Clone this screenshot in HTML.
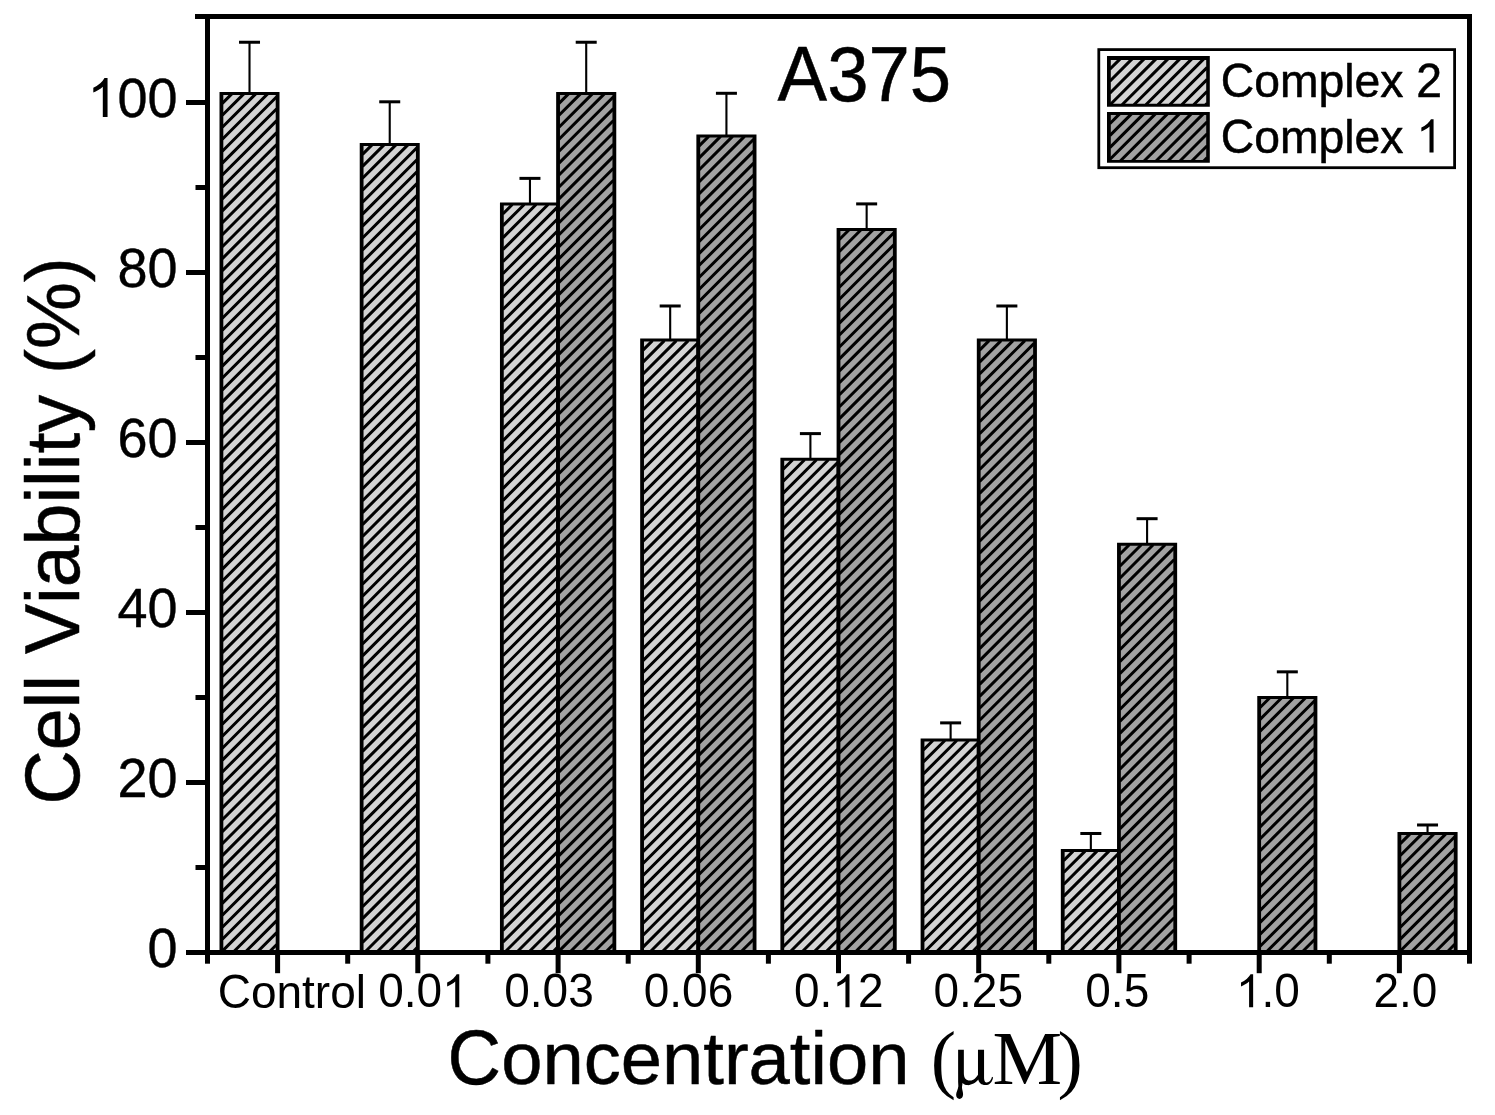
<!DOCTYPE html>
<html><head><meta charset="utf-8"><title>A375</title>
<style>html,body{margin:0;padding:0;background:#fff}body{width:1495px;height:1115px;position:relative;overflow:hidden;font-family:"Liberation Sans",sans-serif}</style>
</head><body>
<svg width="1495" height="1115" viewBox="0 0 1495 1115" style="position:absolute;left:0;top:0;filter:grayscale(1)">
<rect x="248.46" y="42.24" width="2.1" height="50.65" fill="#000"/>
<rect x="239.01" y="40.74" width="21" height="3" fill="#000"/>
<rect x="388.68" y="101.80" width="2.1" height="42.14" fill="#000"/>
<rect x="379.23" y="100.30" width="21" height="3" fill="#000"/>
<rect x="528.91" y="178.37" width="2.1" height="25.12" fill="#000"/>
<rect x="519.46" y="176.87" width="21" height="3" fill="#000"/>
<rect x="585.16" y="42.24" width="2.1" height="50.65" fill="#000"/>
<rect x="575.71" y="40.74" width="21" height="3" fill="#000"/>
<rect x="669.13" y="305.99" width="2.1" height="33.63" fill="#000"/>
<rect x="659.68" y="304.49" width="21" height="3" fill="#000"/>
<rect x="725.38" y="93.29" width="2.1" height="42.14" fill="#000"/>
<rect x="715.93" y="91.79" width="21" height="3" fill="#000"/>
<rect x="809.35" y="433.61" width="2.1" height="25.12" fill="#000"/>
<rect x="799.90" y="432.11" width="21" height="3" fill="#000"/>
<rect x="865.60" y="203.90" width="2.1" height="25.12" fill="#000"/>
<rect x="856.15" y="202.40" width="21" height="3" fill="#000"/>
<rect x="949.57" y="722.88" width="2.1" height="16.62" fill="#000"/>
<rect x="940.12" y="721.38" width="21" height="3" fill="#000"/>
<rect x="1005.82" y="305.99" width="2.1" height="33.63" fill="#000"/>
<rect x="996.37" y="304.49" width="21" height="3" fill="#000"/>
<rect x="1089.79" y="833.49" width="2.1" height="16.62" fill="#000"/>
<rect x="1080.34" y="831.99" width="21" height="3" fill="#000"/>
<rect x="1146.04" y="518.69" width="2.1" height="25.12" fill="#000"/>
<rect x="1136.59" y="517.19" width="21" height="3" fill="#000"/>
<rect x="1286.27" y="671.84" width="2.1" height="25.12" fill="#000"/>
<rect x="1276.82" y="670.34" width="21" height="3" fill="#000"/>
<rect x="1426.49" y="824.98" width="2.1" height="8.11" fill="#000"/>
<rect x="1417.04" y="823.48" width="21" height="3" fill="#000"/>
<rect x="220.51" y="92.89" width="58.00" height="859.61" fill="#d3d3d3"/>
<path d="M222.3 103.4L231.8 93.9M222.3 115.3L243.8 93.9M222.3 127.3L255.7 93.9M222.3 139.2L267.6 93.9M222.3 151.2L276.7 96.8M222.3 163.1L276.7 108.7M222.3 175.0L276.7 120.6M222.3 187.0L276.7 132.6M222.3 198.9L276.7 144.5M222.3 210.9L276.7 156.5M222.3 222.8L276.7 168.4M222.3 234.7L276.7 180.3M222.3 246.7L276.7 192.3M222.3 258.6L276.7 204.2M222.3 270.6L276.7 216.2M222.3 282.5L276.7 228.1M222.3 294.4L276.7 240.0M222.3 306.4L276.7 252.0M222.3 318.3L276.7 263.9M222.3 330.3L276.7 275.9M222.3 342.2L276.7 287.8M222.3 354.1L276.7 299.7M222.3 366.1L276.7 311.7M222.3 378.0L276.7 323.6M222.3 390.0L276.7 335.6M222.3 401.9L276.7 347.5M222.3 413.8L276.7 359.4M222.3 425.8L276.7 371.4M222.3 437.7L276.7 383.3M222.3 449.7L276.7 395.3M222.3 461.6L276.7 407.2M222.3 473.5L276.7 419.1M222.3 485.5L276.7 431.1M222.3 497.4L276.7 443.0M222.3 509.4L276.7 455.0M222.3 521.3L276.7 466.9M222.3 533.2L276.7 478.8M222.3 545.2L276.7 490.8M222.3 557.1L276.7 502.7M222.3 569.1L276.7 514.7M222.3 581.0L276.7 526.6M222.3 592.9L276.7 538.5M222.3 604.9L276.7 550.5M222.3 616.8L276.7 562.4M222.3 628.8L276.7 574.4M222.3 640.7L276.7 586.3M222.3 652.6L276.7 598.2M222.3 664.6L276.7 610.2M222.3 676.5L276.7 622.1M222.3 688.5L276.7 634.1M222.3 700.4L276.7 646.0M222.3 712.3L276.7 657.9M222.3 724.3L276.7 669.9M222.3 736.2L276.7 681.8M222.3 748.2L276.7 693.8M222.3 760.1L276.7 705.7M222.3 772.0L276.7 717.6M222.3 784.0L276.7 729.6M222.3 795.9L276.7 741.5M222.3 807.9L276.7 753.5M222.3 819.8L276.7 765.4M222.3 831.7L276.7 777.3M222.3 843.7L276.7 789.3M222.3 855.6L276.7 801.2M222.3 867.6L276.7 813.2M222.3 879.5L276.7 825.1M222.3 891.4L276.7 837.0M222.3 903.4L276.7 849.0M222.3 915.3L276.7 860.9M222.3 927.3L276.7 872.9M222.3 939.2L276.7 884.8M222.3 951.1L276.7 896.7M233.9 951.5L276.7 908.7M245.8 951.5L276.7 920.6M257.8 951.5L276.7 932.6M269.7 951.5L276.7 944.5" stroke="#000" stroke-width="3.00" fill="none"/>
<path fill-rule="evenodd" fill="#000" d="M219.51 91.89H279.51V953.50H219.51ZM223.31 94.89H275.71V950.50H223.31Z"/>
<rect x="360.73" y="143.94" width="58.00" height="808.56" fill="#d3d3d3"/>
<path d="M362.5 154.4L372.0 144.9M362.5 166.4L384.0 144.9M362.5 178.3L395.9 144.9M362.5 190.3L407.9 144.9M362.5 202.2L416.9 147.8M362.5 214.1L416.9 159.7M362.5 226.1L416.9 171.7M362.5 238.0L416.9 183.6M362.5 250.0L416.9 195.6M362.5 261.9L416.9 207.5M362.5 273.8L416.9 219.4M362.5 285.8L416.9 231.4M362.5 297.7L416.9 243.3M362.5 309.7L416.9 255.3M362.5 321.6L416.9 267.2M362.5 333.5L416.9 279.1M362.5 345.5L416.9 291.1M362.5 357.4L416.9 303.0M362.5 369.4L416.9 315.0M362.5 381.3L416.9 326.9M362.5 393.2L416.9 338.8M362.5 405.2L416.9 350.8M362.5 417.1L416.9 362.7M362.5 429.1L416.9 374.7M362.5 441.0L416.9 386.6M362.5 452.9L416.9 398.5M362.5 464.9L416.9 410.5M362.5 476.8L416.9 422.4M362.5 488.8L416.9 434.4M362.5 500.7L416.9 446.3M362.5 512.6L416.9 458.2M362.5 524.6L416.9 470.2M362.5 536.5L416.9 482.1M362.5 548.5L416.9 494.1M362.5 560.4L416.9 506.0M362.5 572.3L416.9 517.9M362.5 584.3L416.9 529.9M362.5 596.2L416.9 541.8M362.5 608.2L416.9 553.8M362.5 620.1L416.9 565.7M362.5 632.0L416.9 577.6M362.5 644.0L416.9 589.6M362.5 655.9L416.9 601.5M362.5 667.9L416.9 613.5M362.5 679.8L416.9 625.4M362.5 691.7L416.9 637.3M362.5 703.7L416.9 649.3M362.5 715.6L416.9 661.2M362.5 727.6L416.9 673.2M362.5 739.5L416.9 685.1M362.5 751.4L416.9 697.0M362.5 763.4L416.9 709.0M362.5 775.3L416.9 720.9M362.5 787.3L416.9 732.9M362.5 799.2L416.9 744.8M362.5 811.1L416.9 756.7M362.5 823.1L416.9 768.7M362.5 835.0L416.9 780.6M362.5 847.0L416.9 792.6M362.5 858.9L416.9 804.5M362.5 870.8L416.9 816.4M362.5 882.8L416.9 828.4M362.5 894.7L416.9 840.3M362.5 906.7L416.9 852.3M362.5 918.6L416.9 864.2M362.5 930.5L416.9 876.1M362.5 942.5L416.9 888.1M365.5 951.5L416.9 900.0M377.4 951.5L416.9 912.0M389.3 951.5L416.9 923.9M401.3 951.5L416.9 935.8M413.2 951.5L416.9 947.8" stroke="#000" stroke-width="3.00" fill="none"/>
<path fill-rule="evenodd" fill="#000" d="M359.73 142.94H419.73V953.50H359.73ZM363.53 145.94H415.93V950.50H363.53Z"/>
<rect x="500.96" y="203.50" width="58.00" height="749.00" fill="#d3d3d3"/>
<path d="M502.8 214.0L512.3 204.5M502.8 225.9L524.2 204.5M502.8 237.9L536.1 204.5M502.8 249.8L548.1 204.5M502.8 261.8L557.2 207.4M502.8 273.7L557.2 219.3M502.8 285.6L557.2 231.2M502.8 297.6L557.2 243.2M502.8 309.5L557.2 255.1M502.8 321.5L557.2 267.1M502.8 333.4L557.2 279.0M502.8 345.3L557.2 290.9M502.8 357.3L557.2 302.9M502.8 369.2L557.2 314.8M502.8 381.2L557.2 326.8M502.8 393.1L557.2 338.7M502.8 405.0L557.2 350.6M502.8 417.0L557.2 362.6M502.8 428.9L557.2 374.5M502.8 440.9L557.2 386.5M502.8 452.8L557.2 398.4M502.8 464.7L557.2 410.3M502.8 476.7L557.2 422.3M502.8 488.6L557.2 434.2M502.8 500.6L557.2 446.2M502.8 512.5L557.2 458.1M502.8 524.4L557.2 470.0M502.8 536.4L557.2 482.0M502.8 548.3L557.2 493.9M502.8 560.3L557.2 505.9M502.8 572.2L557.2 517.8M502.8 584.1L557.2 529.7M502.8 596.1L557.2 541.7M502.8 608.0L557.2 553.6M502.8 620.0L557.2 565.6M502.8 631.9L557.2 577.5M502.8 643.8L557.2 589.4M502.8 655.8L557.2 601.4M502.8 667.7L557.2 613.3M502.8 679.7L557.2 625.3M502.8 691.6L557.2 637.2M502.8 703.5L557.2 649.1M502.8 715.5L557.2 661.1M502.8 727.4L557.2 673.0M502.8 739.4L557.2 685.0M502.8 751.3L557.2 696.9M502.8 763.2L557.2 708.8M502.8 775.2L557.2 720.8M502.8 787.1L557.2 732.7M502.8 799.1L557.2 744.7M502.8 811.0L557.2 756.6M502.8 822.9L557.2 768.5M502.8 834.9L557.2 780.5M502.8 846.8L557.2 792.4M502.8 858.8L557.2 804.4M502.8 870.7L557.2 816.3M502.8 882.6L557.2 828.2M502.8 894.6L557.2 840.2M502.8 906.5L557.2 852.1M502.8 918.5L557.2 864.1M502.8 930.4L557.2 876.0M502.8 942.3L557.2 887.9M505.5 951.5L557.2 899.9M517.5 951.5L557.2 911.8M529.4 951.5L557.2 923.8M541.4 951.5L557.2 935.7M553.3 951.5L557.2 947.6" stroke="#000" stroke-width="3.00" fill="none"/>
<path fill-rule="evenodd" fill="#000" d="M499.96 202.50H559.96V953.50H499.96ZM503.76 205.50H556.16V950.50H503.76Z"/>
<rect x="557.16" y="92.89" width="58.10" height="859.61" fill="#a2a2a2"/>
<path d="M559.0 103.4L568.5 93.9M559.0 115.3L580.4 93.9M559.0 127.3L592.3 93.9M559.0 139.2L604.3 93.9M559.0 151.2L613.5 96.7M559.0 163.1L613.5 108.6M559.0 175.0L613.5 120.5M559.0 187.0L613.5 132.5M559.0 198.9L613.5 144.4M559.0 210.9L613.5 156.4M559.0 222.8L613.5 168.3M559.0 234.7L613.5 180.2M559.0 246.7L613.5 192.2M559.0 258.6L613.5 204.1M559.0 270.6L613.5 216.1M559.0 282.5L613.5 228.0M559.0 294.4L613.5 239.9M559.0 306.4L613.5 251.9M559.0 318.3L613.5 263.8M559.0 330.3L613.5 275.8M559.0 342.2L613.5 287.7M559.0 354.1L613.5 299.6M559.0 366.1L613.5 311.6M559.0 378.0L613.5 323.5M559.0 390.0L613.5 335.5M559.0 401.9L613.5 347.4M559.0 413.8L613.5 359.3M559.0 425.8L613.5 371.3M559.0 437.7L613.5 383.2M559.0 449.7L613.5 395.2M559.0 461.6L613.5 407.1M559.0 473.5L613.5 419.0M559.0 485.5L613.5 431.0M559.0 497.4L613.5 442.9M559.0 509.4L613.5 454.9M559.0 521.3L613.5 466.8M559.0 533.2L613.5 478.7M559.0 545.2L613.5 490.7M559.0 557.1L613.5 502.6M559.0 569.1L613.5 514.6M559.0 581.0L613.5 526.5M559.0 592.9L613.5 538.4M559.0 604.9L613.5 550.4M559.0 616.8L613.5 562.3M559.0 628.8L613.5 574.3M559.0 640.7L613.5 586.2M559.0 652.6L613.5 598.1M559.0 664.6L613.5 610.1M559.0 676.5L613.5 622.0M559.0 688.5L613.5 634.0M559.0 700.4L613.5 645.9M559.0 712.3L613.5 657.8M559.0 724.3L613.5 669.8M559.0 736.2L613.5 681.7M559.0 748.2L613.5 693.7M559.0 760.1L613.5 705.6M559.0 772.0L613.5 717.5M559.0 784.0L613.5 729.5M559.0 795.9L613.5 741.4M559.0 807.9L613.5 753.4M559.0 819.8L613.5 765.3M559.0 831.7L613.5 777.2M559.0 843.7L613.5 789.2M559.0 855.6L613.5 801.1M559.0 867.6L613.5 813.1M559.0 879.5L613.5 825.0M559.0 891.4L613.5 836.9M559.0 903.4L613.5 848.9M559.0 915.3L613.5 860.8M559.0 927.3L613.5 872.8M559.0 939.2L613.5 884.7M559.0 951.1L613.5 896.6M570.5 951.5L613.5 908.6M582.5 951.5L613.5 920.5M594.4 951.5L613.5 932.5M606.3 951.5L613.5 944.4" stroke="#000" stroke-width="3.00" fill="none"/>
<path fill-rule="evenodd" fill="#000" d="M556.16 91.89H616.26V953.50H556.16ZM559.96 94.89H612.46V950.50H559.96Z"/>
<rect x="641.18" y="339.62" width="58.00" height="612.88" fill="#d3d3d3"/>
<path d="M643.0 350.1L652.5 340.6M643.0 362.1L664.4 340.6M643.0 374.0L676.4 340.6M643.0 385.9L688.3 340.6M643.0 397.9L697.4 343.5M643.0 409.8L697.4 355.4M643.0 421.8L697.4 367.4M643.0 433.7L697.4 379.3M643.0 445.6L697.4 391.2M643.0 457.6L697.4 403.2M643.0 469.5L697.4 415.1M643.0 481.5L697.4 427.1M643.0 493.4L697.4 439.0M643.0 505.3L697.4 450.9M643.0 517.3L697.4 462.9M643.0 529.2L697.4 474.8M643.0 541.2L697.4 486.8M643.0 553.1L697.4 498.7M643.0 565.0L697.4 510.6M643.0 577.0L697.4 522.6M643.0 588.9L697.4 534.5M643.0 600.9L697.4 546.5M643.0 612.8L697.4 558.4M643.0 624.7L697.4 570.3M643.0 636.7L697.4 582.3M643.0 648.6L697.4 594.2M643.0 660.6L697.4 606.2M643.0 672.5L697.4 618.1M643.0 684.4L697.4 630.0M643.0 696.4L697.4 642.0M643.0 708.3L697.4 653.9M643.0 720.3L697.4 665.9M643.0 732.2L697.4 677.8M643.0 744.1L697.4 689.7M643.0 756.1L697.4 701.7M643.0 768.0L697.4 713.6M643.0 780.0L697.4 725.6M643.0 791.9L697.4 737.5M643.0 803.8L697.4 749.4M643.0 815.8L697.4 761.4M643.0 827.7L697.4 773.3M643.0 839.7L697.4 785.3M643.0 851.6L697.4 797.2M643.0 863.5L697.4 809.1M643.0 875.5L697.4 821.1M643.0 887.4L697.4 833.0M643.0 899.4L697.4 845.0M643.0 911.3L697.4 856.9M643.0 923.2L697.4 868.8M643.0 935.2L697.4 880.8M643.0 947.1L697.4 892.7M650.5 951.5L697.4 904.7M662.5 951.5L697.4 916.6M674.4 951.5L697.4 928.5M686.4 951.5L697.4 940.5" stroke="#000" stroke-width="3.00" fill="none"/>
<path fill-rule="evenodd" fill="#000" d="M640.18 338.62H700.18V953.50H640.18ZM643.98 341.62H696.38V950.50H643.98Z"/>
<rect x="697.38" y="135.43" width="58.10" height="817.07" fill="#a2a2a2"/>
<path d="M699.2 145.9L708.7 136.4M699.2 157.9L720.6 136.4M699.2 169.8L732.6 136.4M699.2 181.8L744.5 136.4M699.2 193.7L753.7 139.2M699.2 205.6L753.7 151.1M699.2 217.6L753.7 163.1M699.2 229.5L753.7 175.0M699.2 241.5L753.7 187.0M699.2 253.4L753.7 198.9M699.2 265.3L753.7 210.8M699.2 277.3L753.7 222.8M699.2 289.2L753.7 234.7M699.2 301.2L753.7 246.7M699.2 313.1L753.7 258.6M699.2 325.0L753.7 270.5M699.2 337.0L753.7 282.5M699.2 348.9L753.7 294.4M699.2 360.9L753.7 306.4M699.2 372.8L753.7 318.3M699.2 384.7L753.7 330.2M699.2 396.7L753.7 342.2M699.2 408.6L753.7 354.1M699.2 420.6L753.7 366.1M699.2 432.5L753.7 378.0M699.2 444.4L753.7 389.9M699.2 456.4L753.7 401.9M699.2 468.3L753.7 413.8M699.2 480.3L753.7 425.8M699.2 492.2L753.7 437.7M699.2 504.1L753.7 449.6M699.2 516.1L753.7 461.6M699.2 528.0L753.7 473.5M699.2 540.0L753.7 485.5M699.2 551.9L753.7 497.4M699.2 563.8L753.7 509.3M699.2 575.8L753.7 521.3M699.2 587.7L753.7 533.2M699.2 599.7L753.7 545.2M699.2 611.6L753.7 557.1M699.2 623.5L753.7 569.0M699.2 635.5L753.7 581.0M699.2 647.4L753.7 592.9M699.2 659.4L753.7 604.9M699.2 671.3L753.7 616.8M699.2 683.2L753.7 628.7M699.2 695.2L753.7 640.7M699.2 707.1L753.7 652.6M699.2 719.1L753.7 664.6M699.2 731.0L753.7 676.5M699.2 742.9L753.7 688.4M699.2 754.9L753.7 700.4M699.2 766.8L753.7 712.3M699.2 778.8L753.7 724.3M699.2 790.7L753.7 736.2M699.2 802.6L753.7 748.1M699.2 814.6L753.7 760.1M699.2 826.5L753.7 772.0M699.2 838.5L753.7 784.0M699.2 850.4L753.7 795.9M699.2 862.3L753.7 807.8M699.2 874.3L753.7 819.8M699.2 886.2L753.7 831.7M699.2 898.2L753.7 843.7M699.2 910.1L753.7 855.6M699.2 922.0L753.7 867.5M699.2 934.0L753.7 879.5M699.2 945.9L753.7 891.4M705.5 951.5L753.7 903.4M717.5 951.5L753.7 915.3M729.4 951.5L753.7 927.2M741.3 951.5L753.7 939.2M753.3 951.5L753.7 951.1" stroke="#000" stroke-width="3.00" fill="none"/>
<path fill-rule="evenodd" fill="#000" d="M696.38 134.43H756.48V953.50H696.38ZM700.18 137.43H752.68V950.50H700.18Z"/>
<rect x="781.40" y="458.74" width="58.00" height="493.76" fill="#d3d3d3"/>
<path d="M783.2 469.2L792.7 459.7M783.2 481.2L804.6 459.7M783.2 493.1L816.6 459.7M783.2 505.1L828.5 459.7M783.2 517.0L837.6 462.6M783.2 528.9L837.6 474.5M783.2 540.9L837.6 486.5M783.2 552.8L837.6 498.4M783.2 564.8L837.6 510.4M783.2 576.7L837.6 522.3M783.2 588.6L837.6 534.2M783.2 600.6L837.6 546.2M783.2 612.5L837.6 558.1M783.2 624.5L837.6 570.1M783.2 636.4L837.6 582.0M783.2 648.3L837.6 593.9M783.2 660.3L837.6 605.9M783.2 672.2L837.6 617.8M783.2 684.2L837.6 629.8M783.2 696.1L837.6 641.7M783.2 708.0L837.6 653.6M783.2 720.0L837.6 665.6M783.2 731.9L837.6 677.5M783.2 743.9L837.6 689.5M783.2 755.8L837.6 701.4M783.2 767.7L837.6 713.3M783.2 779.7L837.6 725.3M783.2 791.6L837.6 737.2M783.2 803.6L837.6 749.2M783.2 815.5L837.6 761.1M783.2 827.4L837.6 773.0M783.2 839.4L837.6 785.0M783.2 851.3L837.6 796.9M783.2 863.3L837.6 808.9M783.2 875.2L837.6 820.8M783.2 887.1L837.6 832.7M783.2 899.1L837.6 844.7M783.2 911.0L837.6 856.6M783.2 923.0L837.6 868.6M783.2 934.9L837.6 880.5M783.2 946.8L837.6 892.4M790.5 951.5L837.6 904.4M802.4 951.5L837.6 916.3M814.4 951.5L837.6 928.3M826.3 951.5L837.6 940.2" stroke="#000" stroke-width="3.00" fill="none"/>
<path fill-rule="evenodd" fill="#000" d="M780.40 457.74H840.40V953.50H780.40ZM784.20 460.74H836.60V950.50H784.20Z"/>
<rect x="837.60" y="229.02" width="58.10" height="723.48" fill="#a2a2a2"/>
<path d="M839.4 239.5L848.9 230.0M839.4 251.5L860.8 230.0M839.4 263.4L872.8 230.0M839.4 275.3L884.7 230.0M839.4 287.3L893.9 232.8M839.4 299.2L893.9 244.7M839.4 311.2L893.9 256.7M839.4 323.1L893.9 268.6M839.4 335.0L893.9 280.5M839.4 347.0L893.9 292.5M839.4 358.9L893.9 304.4M839.4 370.9L893.9 316.4M839.4 382.8L893.9 328.3M839.4 394.7L893.9 340.2M839.4 406.7L893.9 352.2M839.4 418.6L893.9 364.1M839.4 430.6L893.9 376.1M839.4 442.5L893.9 388.0M839.4 454.4L893.9 399.9M839.4 466.4L893.9 411.9M839.4 478.3L893.9 423.8M839.4 490.3L893.9 435.8M839.4 502.2L893.9 447.7M839.4 514.1L893.9 459.6M839.4 526.1L893.9 471.6M839.4 538.0L893.9 483.5M839.4 550.0L893.9 495.5M839.4 561.9L893.9 507.4M839.4 573.8L893.9 519.3M839.4 585.8L893.9 531.3M839.4 597.7L893.9 543.2M839.4 609.7L893.9 555.2M839.4 621.6L893.9 567.1M839.4 633.5L893.9 579.0M839.4 645.5L893.9 591.0M839.4 657.4L893.9 602.9M839.4 669.4L893.9 614.9M839.4 681.3L893.9 626.8M839.4 693.2L893.9 638.7M839.4 705.2L893.9 650.7M839.4 717.1L893.9 662.6M839.4 729.1L893.9 674.6M839.4 741.0L893.9 686.5M839.4 752.9L893.9 698.4M839.4 764.9L893.9 710.4M839.4 776.8L893.9 722.3M839.4 788.8L893.9 734.3M839.4 800.7L893.9 746.2M839.4 812.6L893.9 758.1M839.4 824.6L893.9 770.1M839.4 836.5L893.9 782.0M839.4 848.5L893.9 794.0M839.4 860.4L893.9 805.9M839.4 872.3L893.9 817.8M839.4 884.3L893.9 829.8M839.4 896.2L893.9 841.7M839.4 908.2L893.9 853.7M839.4 920.1L893.9 865.6M839.4 932.0L893.9 877.5M839.4 944.0L893.9 889.5M843.8 951.5L893.9 901.4M855.8 951.5L893.9 913.4M867.7 951.5L893.9 925.3M879.6 951.5L893.9 937.2M891.6 951.5L893.9 949.2" stroke="#000" stroke-width="3.00" fill="none"/>
<path fill-rule="evenodd" fill="#000" d="M836.60 228.02H896.70V953.50H836.60ZM840.40 231.02H892.90V950.50H840.40Z"/>
<rect x="921.62" y="739.50" width="58.00" height="213.00" fill="#d3d3d3"/>
<path d="M923.4 750.0L932.9 740.5M923.4 761.9L944.9 740.5M923.4 773.9L956.8 740.5M923.4 785.8L968.7 740.5M923.4 797.8L977.8 743.4M923.4 809.7L977.8 755.3M923.4 821.6L977.8 767.2M923.4 833.6L977.8 779.2M923.4 845.5L977.8 791.1M923.4 857.5L977.8 803.1M923.4 869.4L977.8 815.0M923.4 881.3L977.8 826.9M923.4 893.3L977.8 838.9M923.4 905.2L977.8 850.8M923.4 917.2L977.8 862.8M923.4 929.1L977.8 874.7M923.4 941.0L977.8 886.6M924.9 951.5L977.8 898.6M936.8 951.5L977.8 910.5M948.8 951.5L977.8 922.5M960.7 951.5L977.8 934.4M972.7 951.5L977.8 946.3" stroke="#000" stroke-width="3.00" fill="none"/>
<path fill-rule="evenodd" fill="#000" d="M920.62 738.50H980.62V953.50H920.62ZM924.42 741.50H976.82V950.50H924.42Z"/>
<rect x="977.82" y="339.62" width="58.10" height="612.88" fill="#a2a2a2"/>
<path d="M979.6 350.1L989.1 340.6M979.6 362.1L1001.1 340.6M979.6 374.0L1013.0 340.6M979.6 385.9L1024.9 340.6M979.6 397.9L1034.1 343.4M979.6 409.8L1034.1 355.3M979.6 421.8L1034.1 367.3M979.6 433.7L1034.1 379.2M979.6 445.6L1034.1 391.1M979.6 457.6L1034.1 403.1M979.6 469.5L1034.1 415.0M979.6 481.5L1034.1 427.0M979.6 493.4L1034.1 438.9M979.6 505.3L1034.1 450.8M979.6 517.3L1034.1 462.8M979.6 529.2L1034.1 474.7M979.6 541.2L1034.1 486.7M979.6 553.1L1034.1 498.6M979.6 565.0L1034.1 510.5M979.6 577.0L1034.1 522.5M979.6 588.9L1034.1 534.4M979.6 600.9L1034.1 546.4M979.6 612.8L1034.1 558.3M979.6 624.7L1034.1 570.2M979.6 636.7L1034.1 582.2M979.6 648.6L1034.1 594.1M979.6 660.6L1034.1 606.1M979.6 672.5L1034.1 618.0M979.6 684.4L1034.1 629.9M979.6 696.4L1034.1 641.9M979.6 708.3L1034.1 653.8M979.6 720.3L1034.1 665.8M979.6 732.2L1034.1 677.7M979.6 744.1L1034.1 689.6M979.6 756.1L1034.1 701.6M979.6 768.0L1034.1 713.5M979.6 780.0L1034.1 725.5M979.6 791.9L1034.1 737.4M979.6 803.8L1034.1 749.3M979.6 815.8L1034.1 761.3M979.6 827.7L1034.1 773.2M979.6 839.7L1034.1 785.2M979.6 851.6L1034.1 797.1M979.6 863.5L1034.1 809.0M979.6 875.5L1034.1 821.0M979.6 887.4L1034.1 832.9M979.6 899.4L1034.1 844.9M979.6 911.3L1034.1 856.8M979.6 923.2L1034.1 868.7M979.6 935.2L1034.1 880.7M979.6 947.1L1034.1 892.6M987.2 951.5L1034.1 904.6M999.1 951.5L1034.1 916.5M1011.1 951.5L1034.1 928.4M1023.0 951.5L1034.1 940.4" stroke="#000" stroke-width="3.00" fill="none"/>
<path fill-rule="evenodd" fill="#000" d="M976.82 338.62H1036.92V953.50H976.82ZM980.62 341.62H1033.12V950.50H980.62Z"/>
<rect x="1061.84" y="850.10" width="58.00" height="102.40" fill="#d3d3d3"/>
<path d="M1063.6 860.6L1073.1 851.1M1063.6 872.5L1085.1 851.1M1063.6 884.5L1097.0 851.1M1063.6 896.4L1109.0 851.1M1063.6 908.4L1118.0 854.0M1063.6 920.3L1118.0 865.9M1063.6 932.2L1118.0 877.8M1063.6 944.2L1118.0 889.8M1068.3 951.5L1118.0 901.7M1080.2 951.5L1118.0 913.7M1092.1 951.5L1118.0 925.6M1104.1 951.5L1118.0 937.5M1116.0 951.5L1118.0 949.5" stroke="#000" stroke-width="3.00" fill="none"/>
<path fill-rule="evenodd" fill="#000" d="M1060.84 849.10H1120.84V953.50H1060.84ZM1064.64 852.10H1117.04V950.50H1064.64Z"/>
<rect x="1118.04" y="543.82" width="58.10" height="408.68" fill="#a2a2a2"/>
<path d="M1119.8 554.3L1129.3 544.8M1119.8 566.3L1141.3 544.8M1119.8 578.2L1153.2 544.8M1119.8 590.1L1165.2 544.8M1119.8 602.1L1174.3 547.6M1119.8 614.0L1174.3 559.5M1119.8 626.0L1174.3 571.5M1119.8 637.9L1174.3 583.4M1119.8 649.8L1174.3 595.3M1119.8 661.8L1174.3 607.3M1119.8 673.7L1174.3 619.2M1119.8 685.7L1174.3 631.2M1119.8 697.6L1174.3 643.1M1119.8 709.5L1174.3 655.0M1119.8 721.5L1174.3 667.0M1119.8 733.4L1174.3 678.9M1119.8 745.4L1174.3 690.9M1119.8 757.3L1174.3 702.8M1119.8 769.2L1174.3 714.7M1119.8 781.2L1174.3 726.7M1119.8 793.1L1174.3 738.6M1119.8 805.1L1174.3 750.6M1119.8 817.0L1174.3 762.5M1119.8 828.9L1174.3 774.4M1119.8 840.9L1174.3 786.4M1119.8 852.8L1174.3 798.3M1119.8 864.8L1174.3 810.3M1119.8 876.7L1174.3 822.2M1119.8 888.6L1174.3 834.1M1119.8 900.6L1174.3 846.1M1119.8 912.5L1174.3 858.0M1119.8 924.5L1174.3 870.0M1119.8 936.4L1174.3 881.9M1119.8 948.3L1174.3 893.8M1128.6 951.5L1174.3 905.8M1140.6 951.5L1174.3 917.7M1152.5 951.5L1174.3 929.7M1164.4 951.5L1174.3 941.6" stroke="#000" stroke-width="3.00" fill="none"/>
<path fill-rule="evenodd" fill="#000" d="M1117.04 542.82H1177.14V953.50H1117.04ZM1120.84 545.82H1173.34V950.50H1120.84Z"/>
<rect x="1258.27" y="696.96" width="58.10" height="255.54" fill="#a2a2a2"/>
<path d="M1260.1 707.5L1269.6 698.0M1260.1 719.4L1281.5 698.0M1260.1 731.3L1293.4 698.0M1260.1 743.3L1305.4 698.0M1260.1 755.2L1314.6 700.7M1260.1 767.2L1314.6 712.7M1260.1 779.1L1314.6 724.6M1260.1 791.0L1314.6 736.5M1260.1 803.0L1314.6 748.5M1260.1 814.9L1314.6 760.4M1260.1 826.9L1314.6 772.4M1260.1 838.8L1314.6 784.3M1260.1 850.7L1314.6 796.2M1260.1 862.7L1314.6 808.2M1260.1 874.6L1314.6 820.1M1260.1 886.6L1314.6 832.1M1260.1 898.5L1314.6 844.0M1260.1 910.4L1314.6 855.9M1260.1 922.4L1314.6 867.9M1260.1 934.3L1314.6 879.8M1260.1 946.3L1314.6 891.8M1266.8 951.5L1314.6 903.7M1278.7 951.5L1314.6 915.6M1290.6 951.5L1314.6 927.6M1302.6 951.5L1314.6 939.5" stroke="#000" stroke-width="3.00" fill="none"/>
<path fill-rule="evenodd" fill="#000" d="M1257.27 695.96H1317.37V953.50H1257.27ZM1261.07 698.96H1313.57V950.50H1261.07Z"/>
<rect x="1398.49" y="833.09" width="58.10" height="119.41" fill="#a2a2a2"/>
<path d="M1400.3 843.6L1409.8 834.1M1400.3 855.5L1421.7 834.1M1400.3 867.5L1433.7 834.1M1400.3 879.4L1445.6 834.1M1400.3 891.3L1454.8 836.8M1400.3 903.3L1454.8 848.8M1400.3 915.2L1454.8 860.7M1400.3 927.2L1454.8 872.7M1400.3 939.1L1454.8 884.6M1400.3 951.0L1454.8 896.5M1411.8 951.5L1454.8 908.5M1423.7 951.5L1454.8 920.4M1435.7 951.5L1454.8 932.4M1447.6 951.5L1454.8 944.3" stroke="#000" stroke-width="3.00" fill="none"/>
<path fill-rule="evenodd" fill="#000" d="M1397.49 832.09H1457.59V953.50H1397.49ZM1401.29 835.09H1453.79V950.50H1401.29Z"/>
<g fill="#000">
<rect x="205.0" y="14.0" width="5.0" height="949.7"/>
<rect x="1467.0" y="14.0" width="5.0" height="949.7"/>
<rect x="195.0" y="14.0" width="1277.0" height="5.0"/>
<rect x="186.0" y="950.0" width="1286.0" height="5.0"/>
<rect x="195.5" y="865.0" width="12.0" height="5.0"/>
<rect x="186.0" y="780.0" width="21.5" height="5.0"/>
<rect x="195.5" y="695.0" width="12.0" height="5.0"/>
<rect x="186.0" y="610.0" width="21.5" height="5.0"/>
<rect x="195.5" y="525.0" width="12.0" height="5.0"/>
<rect x="186.0" y="440.0" width="21.5" height="5.0"/>
<rect x="195.5" y="355.0" width="12.0" height="5.0"/>
<rect x="186.0" y="270.0" width="21.5" height="5.0"/>
<rect x="195.5" y="185.0" width="12.0" height="5.0"/>
<rect x="186.0" y="100.0" width="21.5" height="5.0"/>
<rect x="275.1" y="952.5" width="5.0" height="20.7"/>
<rect x="415.3" y="952.5" width="5.0" height="20.7"/>
<rect x="555.6" y="952.5" width="5.0" height="20.7"/>
<rect x="695.8" y="952.5" width="5.0" height="20.7"/>
<rect x="836.0" y="952.5" width="5.0" height="20.7"/>
<rect x="976.2" y="952.5" width="5.0" height="20.7"/>
<rect x="1116.4" y="952.5" width="5.0" height="20.7"/>
<rect x="1256.7" y="952.5" width="5.0" height="20.7"/>
<rect x="1396.9" y="952.5" width="5.0" height="20.7"/>
<rect x="345.2" y="952.5" width="5.0" height="11.2"/>
<rect x="485.4" y="952.5" width="5.0" height="11.2"/>
<rect x="625.7" y="952.5" width="5.0" height="11.2"/>
<rect x="765.9" y="952.5" width="5.0" height="11.2"/>
<rect x="906.1" y="952.5" width="5.0" height="11.2"/>
<rect x="1046.3" y="952.5" width="5.0" height="11.2"/>
<rect x="1186.6" y="952.5" width="5.0" height="11.2"/>
<rect x="1326.8" y="952.5" width="5.0" height="11.2"/>
</g>
<rect x="1098.8" y="49.6" width="355.8" height="118.1" fill="#fff" stroke="#000" stroke-width="2.8"/>
<rect x="1108.00" y="57.10" width="100.80" height="48.60" fill="#d3d3d3"/>
<path d="M1109.8 69.3L1120.2 58.9M1109.8 81.2L1132.1 58.9M1109.8 93.2L1144.1 58.9M1110.1 104.8L1156.0 58.9M1122.1 104.8L1168.0 58.9M1134.0 104.8L1179.9 58.9M1145.9 104.8L1191.8 58.9M1157.9 104.8L1203.8 58.9M1169.8 104.8L1207.2 67.4M1181.8 104.8L1207.2 79.4M1193.7 104.8L1207.2 91.3M1205.6 104.8L1207.2 103.2" stroke="#000" stroke-width="3.00" fill="none"/>
<path fill-rule="evenodd" fill="#000" d="M1107.00 56.10H1209.80V106.70H1107.00ZM1110.80 59.90H1206.20V103.80H1110.80Z"/>
<rect x="1108.00" y="112.90" width="100.80" height="48.90" fill="#a2a2a2"/>
<path d="M1109.8 123.7L1119.6 113.9M1109.8 135.6L1131.5 113.9M1109.8 147.6L1143.5 113.9M1109.8 159.5L1155.4 113.9M1120.3 161.0L1167.4 113.9M1132.2 161.0L1179.3 113.9M1144.1 161.0L1191.2 113.9M1156.1 161.0L1203.2 113.9M1168.0 161.0L1207.2 121.8M1180.0 161.0L1207.2 133.8M1191.9 161.0L1207.2 145.7M1203.8 161.0L1207.2 157.6" stroke="#000" stroke-width="3.00" fill="none"/>
<path fill-rule="evenodd" fill="#000" d="M1107.00 111.90H1209.80V162.80H1107.00ZM1110.80 114.90H1206.20V160.00H1110.80Z"/>
<g font-family="Liberation Sans, sans-serif" fill="#000" stroke="#000" stroke-width="0" stroke-linejoin="round">
<g stroke-width="0.4">
<text transform="translate(147.48 966.90) scale(1 1.045)" font-size="54">0</text>
<text transform="translate(117.45 796.90) scale(1 1.045)" font-size="54">20</text>
<text transform="translate(117.45 626.90) scale(1 1.045)" font-size="54">40</text>
<text transform="translate(117.45 456.90) scale(1 1.045)" font-size="54">60</text>
<text transform="translate(117.45 286.90) scale(1 1.045)" font-size="54">80</text>
<path transform="translate(87.43 116.90) scale(0.02637 -0.02637)" d="M763 0H583V1147Q518 1085 412.5 1023T223 930V1104Q374 1175 487 1276T647 1472H763Z"/>
<text transform="translate(117.45 116.90) scale(1 1.045)" font-size="54">00</text>
</g>
<text transform="translate(217.70 1007.50) scale(1 1.045)" font-size="46">C</text>
<text x="250.91" y="1007.50" font-size="46">ontrol</text>
<text transform="translate(378.20 1007.30) scale(1 1.045)" font-size="46">0.0</text>
<path transform="translate(442.14 1007.30) scale(0.02246 -0.02246)" d="M763 0H583V1147Q518 1085 412.5 1023T223 930V1104Q374 1175 487 1276T647 1472H763Z"/>
<text transform="translate(504.20 1007.30) scale(1 1.045)" font-size="46">0.03</text>
<text transform="translate(643.70 1007.30) scale(1 1.045)" font-size="46">0.06</text>
<text transform="translate(794.00 1007.30) scale(1 1.045)" font-size="46">0.</text>
<path transform="translate(832.36 1007.30) scale(0.02246 -0.02246)" d="M763 0H583V1147Q518 1085 412.5 1023T223 930V1104Q374 1175 487 1276T647 1472H763Z"/>
<text transform="translate(857.94 1007.30) scale(1 1.045)" font-size="46">2</text>
<text transform="translate(933.50 1007.30) scale(1 1.045)" font-size="46">0.25</text>
<text transform="translate(1085.30 1007.30) scale(1 1.045)" font-size="46">0.5</text>
<path transform="translate(1236.00 1007.30) scale(0.02246 -0.02246)" d="M763 0H583V1147Q518 1085 412.5 1023T223 930V1104Q374 1175 487 1276T647 1472H763Z"/>
<text transform="translate(1261.58 1007.30) scale(1 1.045)" font-size="46">.0</text>
<text transform="translate(1373.50 1007.30) scale(1 1.045)" font-size="46">2.0</text>
<g stroke-width="0.5">
<text transform="translate(777.6 100.6) scale(1 1.05)" font-size="74.3">A375</text>
<text transform="translate(1220.80 96.90) scale(1 1.045)" font-size="46.3">C</text>
<text x="1254.23" y="96.90" font-size="46.3">omplex</text>
<text transform="translate(1220.80 152.50) scale(1 1.045)" font-size="46.3">C</text>
<text x="1254.23" y="152.50" font-size="46.3">omplex</text>
<text transform="translate(1416.32 96.90) scale(1 1.045)" font-size="46.3">2</text>
<path transform="translate(1416.32 152.50) scale(0.02261 -0.02261)" d="M763 0H583V1147Q518 1085 412.5 1023T223 930V1104Q374 1175 487 1276T647 1472H763Z"/>
</g>
<g stroke-width="0.5">
<text transform="translate(79.4 804.5) rotate(-90) translate(0.00 0) scale(1 1.045)" font-size="75.2">C</text>
<text transform="translate(79.4 804.5) rotate(-90) translate(54.29 0) scale(1 1.000)" font-size="75.2">ell</text>
<text transform="translate(79.4 804.5) rotate(-90) translate(150.40 0) scale(1 1.045)" font-size="75.2">V</text>
<text transform="translate(79.4 804.5) rotate(-90) translate(200.56 0) scale(1 1.000)" font-size="75.2">iability (%)</text>
<text transform="translate(447.60 1084.00) scale(1 1.045)" font-size="74.2">C</text>
<text x="501.17" y="1084.00" font-size="74.2">oncentration</text>
</g>
</g>
<g font-family="Liberation Serif, serif" fill="#000" font-size="76">
<text x="930.8" y="1083.8">(</text>
<path transform="translate(925 1020) scale(0.11038)" d="M300 270H352V480C352 530 375 550 410 548C440 546 465 520 480 495V270H535V520C535 560 550 570 570 565C590 560 600 540 607 515L617 520C610 560 585 590 545 590C510 590 490 570 482 540C460 570 420 592 385 590C365 589 350 580 340 570C338 590 335 600 335 612C335 630 345 650 345 675C345 700 330 715 313 715C295 715 282 700 282 678C282 650 300 630 302 600L300 560Z"/>
<text transform="translate(992.6 1083.8) scale(1.03 1)">M</text>
<text x="1057.5" y="1083.8">)</text>
</g>
</svg>
</body></html>
